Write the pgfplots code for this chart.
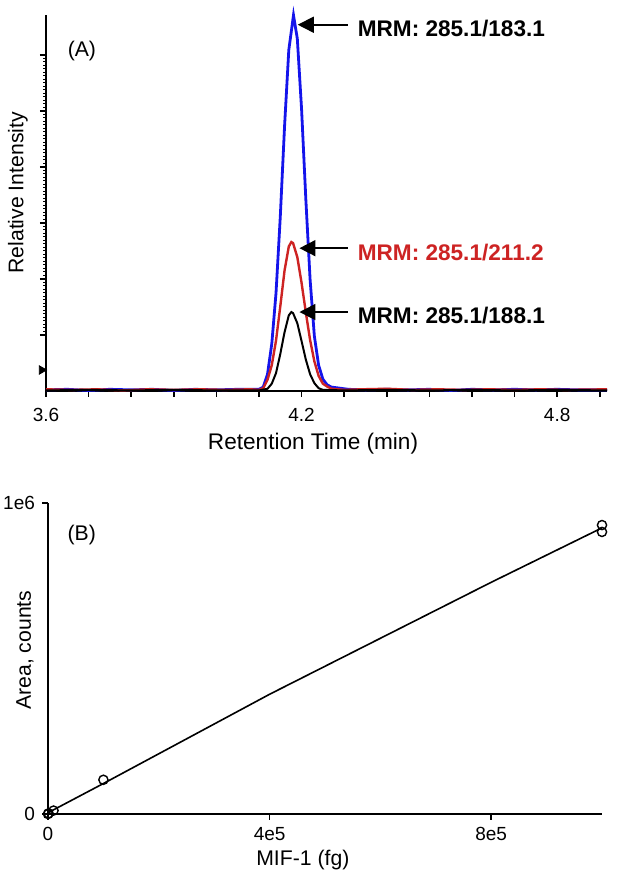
\documentclass[border=0pt]{standalone}
\usepackage{pgfplots}
\pgfplotsset{compat=1.18}
\usepackage{fontspec}
\setmainfont{Liberation Sans}
\usetikzlibrary{arrows.meta}
\definecolor{mrmblue}{RGB}{20,20,235}
\definecolor{mrmred}{RGB}{205,35,35}

\pgfplotsset{
  panel/.style={
    scale only axis,
    axis lines=left,
    axis line style={line width=0.9pt,-},
    enlargelimits=false,
    clip=false,
    tick style={black,line width=0.8pt},
    tick align=outside,
    major tick length=3pt,
    ticklabel style={font=\fontsize{9.5}{11}\selectfont},
    label style={font=\fontsize{10.6}{12}\selectfont},
    /pgf/number format/assume math mode=true,
  }
}

\begin{document}
\begin{tikzpicture}
\useasboundingbox (0,0) rectangle (309.5pt,441.5pt);

% (A) chromatogram
\begin{axis}[panel,
  at={(23pt,246pt)}, anchor=south west,
  width=280.5pt, height=188pt,
  xmin=3.6, xmax=4.917, ymin=0, ymax=6.714,
  xtick={3.6,3.7,3.8,3.9,4.0,4.1,4.2,4.3,4.4,4.5,4.6,4.7,4.8,4.9},
  xticklabels={3.6,,,,,,4.2,,,,,,4.8,},
  xticklabel style={yshift=-2pt},
  ytick={1,2,3,4,5,6}, yticklabels={},
  minor y tick num=15,
  minor tick length=1.4pt,
  minor tick style={line width=0.5pt},
  xlabel={Retention Time (min)},
  ylabel={Relative Intensity},
  x label style={at={(axis description cs:0.476,-0.14)},anchor=center,
    font=\fontsize{11.3}{13}\selectfont},
  y label style={at={(axis description cs:-0.05,0.527)},anchor=center},
]
\addplot[mrmblue,line width=1.4pt] coordinates {
 (3.60,0.02) (3.65,0.03) (3.70,0.01) (3.75,0.03) (3.80,0.02) (3.85,0.03)
 (3.90,0.01) (3.95,0.03) (4.00,0.02) (4.05,0.03) (4.10,0.03) (4.11,0.07)
 (4.12,0.30) (4.13,0.84) (4.14,1.75) (4.15,3.11) (4.16,4.72) (4.17,6.09)
 (4.181,6.71) (4.19,6.29) (4.20,5.03) (4.21,3.42) (4.22,1.99) (4.23,0.98)
 (4.24,0.46) (4.25,0.21) (4.26,0.11) (4.27,0.07) (4.29,0.05) (4.31,0.03)
 (4.35,0.02) (4.40,0.03) (4.45,0.02) (4.50,0.03) (4.55,0.01) (4.60,0.03)
 (4.65,0.02) (4.70,0.03) (4.75,0.02) (4.80,0.03) (4.85,0.02) (4.917,0.02)
};
\addplot[mrmred,line width=1.2pt] coordinates {
 (3.60,0.03) (3.66,0.02) (3.72,0.03) (3.78,0.01) (3.84,0.03) (3.90,0.02)
 (3.96,0.03) (4.02,0.02) (4.08,0.03) (4.10,0.02) (4.11,0.05) (4.12,0.20)
 (4.13,0.46) (4.14,0.90) (4.15,1.51) (4.16,2.15) (4.17,2.58) (4.176,2.66)
 (4.18,2.64) (4.19,2.39) (4.20,1.93) (4.21,1.40) (4.22,0.91) (4.23,0.53)
 (4.24,0.27) (4.25,0.13) (4.26,0.08) (4.27,0.04) (4.30,0.02) (4.34,0.03)
 (4.40,0.04) (4.46,0.02) (4.52,0.03) (4.58,0.02) (4.64,0.03) (4.70,0.02)
 (4.76,0.03) (4.82,0.02) (4.917,0.03)
};
\addplot[black,line width=1.0pt] coordinates {
 (3.60,0.01) (3.70,0.02) (3.80,0.01) (3.90,0.02) (4.00,0.01) (4.10,0.01)
 (4.12,0.04) (4.13,0.13) (4.14,0.32) (4.15,0.66) (4.16,1.05) (4.17,1.35)
 (4.176,1.41) (4.18,1.39) (4.19,1.21) (4.20,0.89) (4.21,0.56) (4.22,0.30)
 (4.23,0.14) (4.24,0.05) (4.25,0.02) (4.30,0.01) (4.40,0.02) (4.50,0.01)
 (4.60,0.02) (4.70,0.01) (4.80,0.02) (4.917,0.01)
};
% small marker on the intensity axis
\addplot[only marks,mark=triangle*,mark size=2.4pt,black,mark options={rotate=-90}]
 coordinates {(3.59,0.375)};

\draw[line width=0.8pt,-{Triangle[length=8pt,width=8pt]}]
  (axis cs:4.308,6.54) -- (axis cs:4.191,6.54);
\draw[line width=0.8pt,-{Triangle[length=8pt,width=8pt]}]
  (axis cs:4.308,2.55) -- (axis cs:4.195,2.55);
\draw[line width=0.8pt,-{Triangle[length=8pt,width=8pt]}]
  (axis cs:4.308,1.41) -- (axis cs:4.195,1.41);
\node[anchor=west,font=\fontsize{11.3}{13}\selectfont\bfseries,inner sep=0pt]
  at (axis cs:4.331,6.48) {MRM: 285.1/183.1};
\node[anchor=west,font=\fontsize{11.3}{13}\selectfont\bfseries,inner sep=0pt,text=mrmred]
  at (axis cs:4.331,2.48) {MRM: 285.1/211.2};
\node[anchor=west,font=\fontsize{11.3}{13}\selectfont\bfseries,inner sep=0pt]
  at (axis cs:4.331,1.34) {MRM: 285.1/188.1};
\node[font=\fontsize{10.6}{12}\selectfont] at (rel axis cs:0.064,0.905) {(A)};
\end{axis}

% (B) calibration curve
\begin{axis}[panel,
  at={(24pt,34.5pt)}, anchor=south west,
  width=277pt, height=155.5pt,
  xmin=0, xmax=1000000, ymin=0, ymax=1000000,
  scaled x ticks=false, scaled y ticks=false,
  xtick={0,400000,800000}, xticklabels={0,4e5,8e5},
  ytick={0,1000000}, yticklabels={0,1e6},
  xlabel={MIF-1 (fg)},
  ylabel={Area, counts},
  x label style={at={(axis description cs:0.46,-0.148)},anchor=center},
  y label style={at={(axis description cs:-0.0415,0.527)},anchor=center},
]
\addplot[black,line width=0.8pt] coordinates {
 (0,4000) (100000,98000) (400000,385000) (800000,745000) (1000000,920000)
};
\addplot[only marks,mark=o,mark size=2.3pt,mark options={line width=0.7pt,black}]
 coordinates {
 (0,0) (1000,2000) (10000,11000) (100000,110000) (1000000,929000) (1000000,907000)
};
\node[font=\fontsize{10.6}{12}\selectfont] at (rel axis cs:0.061,0.897) {(B)};
\end{axis}
\end{tikzpicture}
\end{document}
